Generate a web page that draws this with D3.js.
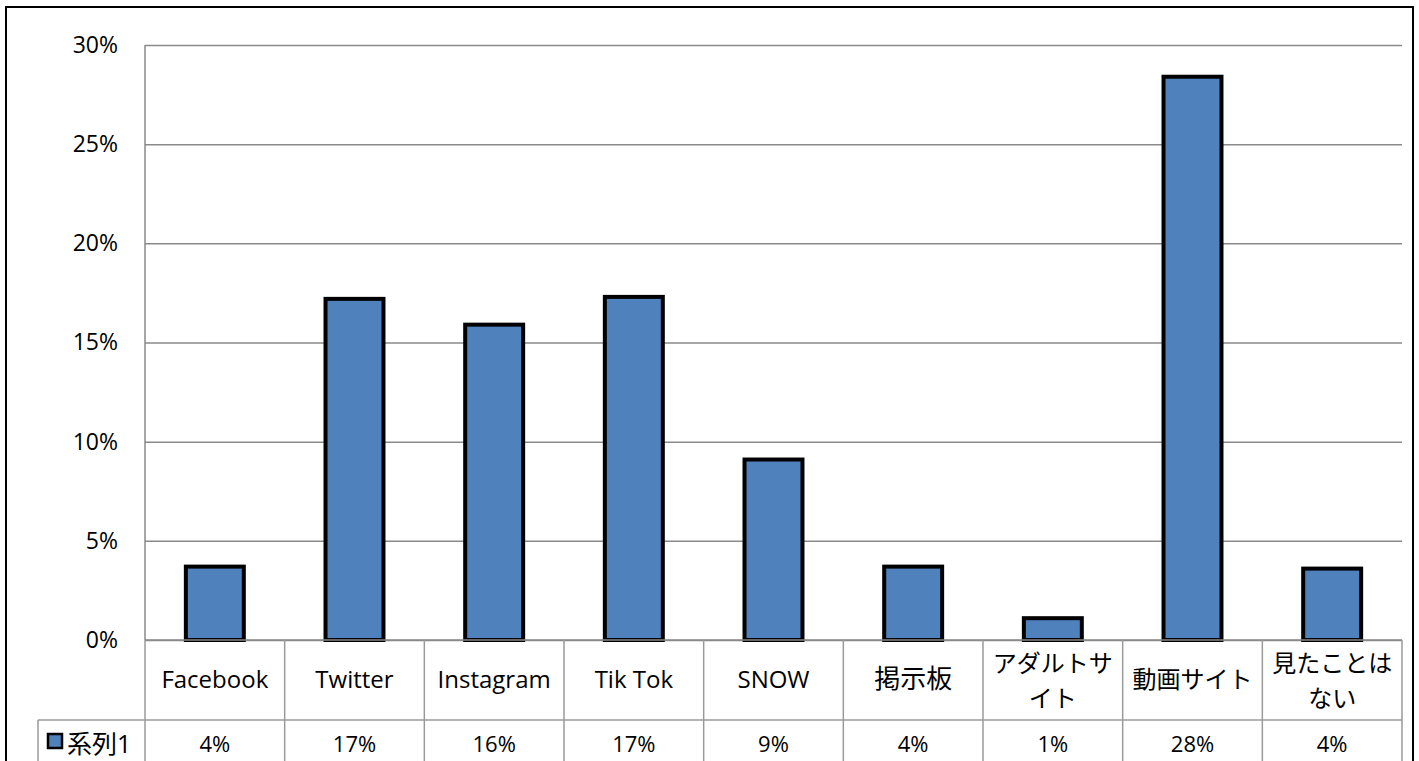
<!DOCTYPE html>
<html>
<head>
<meta charset="utf-8">
<script src="https://cdn.jsdelivr.net/npm/d3@7"></script>
<style>
  body { margin: 0; background: #fff; }
  svg text { font-family: "Open Sans", "Noto Sans CJK JP", sans-serif; fill: #000; }
</style>
</head>
<body>
<div id="vis"></div>
<script>
const FRAME_WIDTH = 1419;
const FRAME_HEIGHT = 761;
const MARGINS = {left: 145, right: 17, top: 45, bottom: 121};

// data
const categories = ["Facebook", "Twitter", "Instagram", "Tik Tok", "SNOW", "掲示板", "アダルトサイト", "動画サイト", "見たことはない"];
const labelLines = [["Facebook"], ["Twitter"], ["Instagram"], ["Tik Tok"], ["SNOW"], ["掲示板"], ["アダルトサ", "イト"], ["動画サイト"], ["見たことは", "ない"]];
const values = [3.7, 17.2, 15.9, 17.3, 9.1, 3.7, 1.1, 28.4, 3.6];
const tableLabels = ["4%", "17%", "16%", "17%", "9%", "4%", "1%", "28%", "4%"];
const seriesName = "系列1";
const yTicks = [0, 5, 10, 15, 20, 25, 30];

const VIS_WIDTH = FRAME_WIDTH - MARGINS.left - MARGINS.right;
const VIS_HEIGHT = FRAME_HEIGHT - MARGINS.top - MARGINS.bottom;

const FRAME = d3.select("#vis")
  .append("svg")
    .attr("width", FRAME_WIDTH)
    .attr("height", FRAME_HEIGHT);

// outer chart border
FRAME.append("rect")
    .attr("x", 6).attr("y", 7)
    .attr("width", 1407).attr("height", 770)
    .attr("fill", "none")
    .attr("stroke", "#000")
    .attr("stroke-width", 2);

const X_SCALE = d3.scaleBand()
    .domain(categories)
    .range([0, VIS_WIDTH])
    .paddingInner(0.585)
    .paddingOuter(0.2925);

const Y_SCALE = d3.scaleLinear()
    .domain([0, 30])
    .range([VIS_HEIGHT, 0]);

const plot = FRAME.append("g")
    .attr("transform", "translate(" + MARGINS.left + "," + MARGINS.top + ")");

// gridlines + y labels
const yAxis = plot.append("g")
    .call(d3.axisLeft(Y_SCALE).tickValues(yTicks).tickSize(-VIS_WIDTH).tickPadding(27).tickFormat(d => d + "%"));
yAxis.select(".domain").remove();
yAxis.selectAll("line").attr("stroke", "#8a8a8a").attr("stroke-width", 1.5);
yAxis.selectAll("text").attr("font-size", "23px").attr("font-family", null);

// left axis line
plot.append("line")
    .attr("x1", 0).attr("x2", 0)
    .attr("y1", 0).attr("y2", VIS_HEIGHT)
    .attr("stroke", "#8a8a8a").attr("stroke-width", 1.5);

plot.selectAll(".bar")
    .data(values)
    .enter()
    .append("rect")
      .attr("x", (d, i) => X_SCALE(categories[i]))
      .attr("y", d => Y_SCALE(d))
      .attr("width", X_SCALE.bandwidth())
      .attr("height", d => VIS_HEIGHT - Y_SCALE(d))
      .attr("fill", "#4F81BD")
      .attr("stroke", "#000")
      .attr("stroke-width", 4);

// data table below
const ROW1 = 80;
const step = X_SCALE.step();
const table = plot.append("g").attr("transform", "translate(0," + VIS_HEIGHT + ")");
const gridColor = "#9a9a9a";

table.append("line").attr("x1", 0).attr("x2", VIS_WIDTH).attr("y1", 0).attr("y2", 0)
    .attr("stroke", "#8a8a8a").attr("stroke-width", 1.5);
table.append("line").attr("x1", 38 - MARGINS.left).attr("x2", VIS_WIDTH).attr("y1", ROW1).attr("y2", ROW1)
    .attr("stroke", gridColor).attr("stroke-width", 1.5);
table.append("line").attr("x1", 38 - MARGINS.left).attr("x2", 38 - MARGINS.left).attr("y1", ROW1).attr("y2", ROW1 + 60)
    .attr("stroke", gridColor).attr("stroke-width", 1.5);

table.selectAll(".vline")
    .data(d3.range(categories.length + 1))
    .enter()
    .append("line")
      .attr("x1", i => i * step).attr("x2", i => i * step)
      .attr("y1", 0).attr("y2", ROW1 + 60)
      .attr("stroke", gridColor).attr("stroke-width", 1.5);

const catText = table.selectAll(".cat")
    .data(labelLines)
    .enter()
    .append("text")
      .attr("text-anchor", "middle")
      .attr("font-size", (d, i) => i === 5 ? "26px" : (i > 5 ? "24px" : "24px"))
      .attr("x", (d, i) => X_SCALE(categories[i]) + X_SCALE.bandwidth() / 2)
      .attr("y", d => d.length > 1 ? 32 : 48);
catText.selectAll("tspan")
    .data(d => d)
    .enter()
    .append("tspan")
      .attr("x", function() { return this.parentNode.getAttribute("x"); })
      .attr("dy", (d, j) => j === 0 ? 0 : 35)
      .text(d => d);

table.selectAll(".val")
    .data(tableLabels)
    .enter()
    .append("text")
      .attr("text-anchor", "middle")
      .attr("font-size", "22px")
      .attr("x", (d, i) => X_SCALE(categories[i]) + X_SCALE.bandwidth() / 2)
      .attr("y", ROW1 + 32)
      .text(d => d);

// legend key in table
table.append("rect")
    .attr("x", 48 - MARGINS.left).attr("y", ROW1 + 14)
    .attr("width", 14).attr("height", 14)
    .attr("fill", "#4F81BD").attr("stroke", "#000").attr("stroke-width", 2.5);
table.append("text")
    .attr("x", 67 - MARGINS.left).attr("y", ROW1 + 33)
    .attr("font-size", "25px")
    .text(seriesName);
</script>
</body>
</html>
